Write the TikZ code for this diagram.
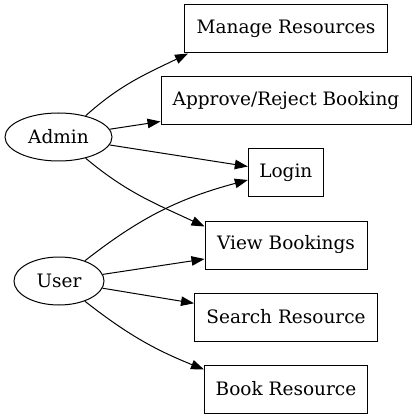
\documentclass[tikz,border=0pt]{standalone}
\usepackage{fontspec}
\setmainfont{DejaVu Serif}
\usetikzlibrary{shapes.geometric,arrows.meta,calc}
\begin{document}
\begin{tikzpicture}[x=1pt,y=1pt,
  every node/.style={font=\fontsize{18.5}{22}\selectfont, inner sep=0pt},
  actor/.style={draw, ellipse, line width=1pt, minimum height=48pt},
  usecase/.style={draw, rectangle, line width=1pt, minimum height=48pt},
  link/.style={line width=1pt, -{Triangle[length=13pt,width=9.5pt]}}]
\useasboundingbox (0,0) rectangle (417,-419);
\node[actor, minimum width=107pt] (admin) at (58.5,-137) {Admin};
\node[actor, minimum width=90pt] (user) at (59,-281) {User};
\node[usecase, minimum width=203pt] (manage) at (286,-29) {Manage Resources};
\node[usecase, minimum width=250pt] (approve) at (286,-101) {Approve/Reject Booking};
\node[usecase, minimum width=75pt] (login) at (285.8,-173) {Login};
\node[usecase, minimum width=162pt] (view) at (286,-245) {View Bookings};
\node[usecase, minimum width=183pt] (search) at (286,-317) {Search Resource};
\node[usecase, minimum width=163pt] (book) at (286,-389) {Book Resource};
\coordinate (mT) at ($(manage.south west)+(4,0)$);
\coordinate (aT) at ($(approve.south west)+(0,4)$);
\coordinate (lT1) at ($(login.west)+(0,6.5)$);
\coordinate (lT2) at ($(login.west)+(0,-7)$);
\coordinate (vT1) at ($(view.north west)+(0,-6)$);
\coordinate (vT2) at ($(view.west)+(0,-14)$);
\coordinate (sT) at ($(search.west)+(0,13.7)$);
\coordinate (bT) at ($(book.north west)+(0,-5)$);
\draw[link] (admin.38) to[out=42, in=206] (mT);
\draw[link] (admin) -- (aT);
\draw[link] (admin) -- (lT1);
\draw[link] (admin.-38) to[out=-40, in=155] (vT1);
\draw[link] (user.38) to[out=38, in=195] (lT2);
\draw[link] (user) -- (vT2);
\draw[link] (user) -- (sT);
\draw[link] (user.-38) to[out=-38, in=158] (bT);
\end{tikzpicture}
\end{document}
